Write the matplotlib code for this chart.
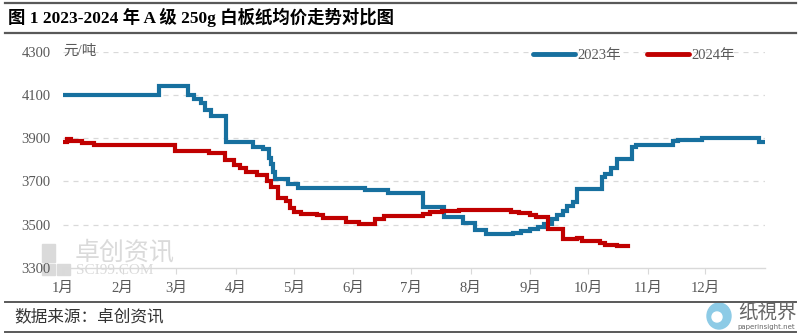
import matplotlib
matplotlib.use('Agg')
import matplotlib.pyplot as plt
from matplotlib.lines import Line2D
from matplotlib.patches import Rectangle, Ellipse
import pandas as pd

plt.rcParams['font.family'] = ['Liberation Serif', 'Noto Sans CJK SC', 'DejaVu Sans']

# 2023 price change points (date, yuan/ton)
dates_2023 = ['01-01', '02-20', '03-07', '03-10', '03-14', '03-16', '03-19', '03-27',
              '04-10', '04-15', '04-18', '04-19', '04-20', '04-21', '04-28', '05-03',
              '06-07', '06-19', '07-07', '07-18', '07-28', '08-03', '08-09', '08-23',
              '08-27', '09-01', '09-05', '09-08', '09-12', '09-15', '09-18', '09-20',
              '09-23', '09-25', '10-08', '10-10', '10-13', '10-16', '10-24', '10-26',
              '11-14', '11-17', '11-29', '12-29', '12-31']
price_2023 = [4100, 4140, 4100, 4080, 4060, 4030, 4000, 3880,
              3860, 3850, 3810, 3780, 3745, 3710, 3690, 3670,
              3660, 3645, 3580, 3535, 3510, 3475, 3455, 3460,
              3470, 3480, 3490, 3505, 3525, 3543, 3565, 3588,
              3605, 3665, 3720, 3735, 3760, 3805, 3860, 3870,
              3885, 3890, 3900, 3880, 3880]

# 2024 price change points
dates_2024 = ['01-01', '01-03', '01-05', '01-11', '01-17', '02-28', '03-18', '03-26',
              '03-31', '04-03', '04-06', '04-12', '04-17', '04-19', '04-23', '04-27',
              '04-29', '05-01', '05-05', '05-13', '05-16', '05-28', '06-04', '06-12',
              '06-17', '07-07', '07-11', '07-17', '07-26', '08-22', '08-26', '09-01',
              '09-04', '09-10', '09-18', '09-25', '09-28', '10-07', '10-10', '10-16',
              '10-22']
price_2024 = [3880, 3895, 3885, 3878, 3868, 3840, 3830, 3800,
              3775, 3760, 3745, 3730, 3700, 3675, 3625, 3610,
              3575, 3560, 3550, 3543, 3532, 3512, 3503, 3528,
              3538, 3550, 3558, 3565, 3570, 3560, 3555, 3546,
              3535, 3482, 3432, 3438, 3423, 3417, 3408, 3401,
              3401]

month_labels = ['1月', '2月', '3月', '4月', '5月', '6月', '7月', '8月', '9月', '10月', '11月', '12月']
y_ticks = [3300, 3500, 3700, 3900, 4100, 4300]


def day_index(md):
    return pd.Timestamp('2023-' + md).dayofyear - 1


x23 = [day_index(d) for d in dates_2023]
x24 = [day_index(d) for d in dates_2024]
month_pos = [day_index('%02d-01' % m) for m in range(1, 13)]

blue = '#17709f'
red = '#c00000'
grey = '#595959'

fig = plt.figure(figsize=(8, 3.35), dpi=100)

# watermark (behind everything)
wm = '#dadada'
for (x0, y0, w, h) in [(42, 262, 13, 18), (42, 275, 13, 11), (57, 275, 13, 11)]:
    fig.add_artist(Rectangle((x0 / 800, 1 - y0 / 335), w / 800, h / 335, color=wm,
                             transform=fig.transFigure, zorder=-5))
fig.text(75 / 800, 1 - 252 / 335, '卓创资讯', fontsize=18, color=wm, ha='left', va='center',
         family=['Noto Sans CJK SC'], zorder=-5)
fig.text(76 / 800, 1 - 271 / 335, 'SCI99.COM', fontsize=11, color=wm, ha='left', va='center',
         zorder=-5)

ax = fig.add_axes([63 / 800, 1 - 268 / 335, (765 - 63) / 800, (268 - 51.5) / 335])
ax.patch.set_alpha(0)

ax.plot(x23, price_2023, drawstyle='steps-post', color=blue, lw=3, solid_joinstyle='miter', zorder=3)
ax.plot(x24, price_2024, drawstyle='steps-post', color=red, lw=3, solid_joinstyle='miter', zorder=3)

ax.set_xlim(0, 365)
ax.set_ylim(3300, 4300)
ax.set_yticks(y_ticks)
ax.set_xticks(month_pos)
ax.set_xticklabels(month_labels)
for v in y_ticks[1:]:
    ax.axhline(v, color='#d9d9d9', lw=0.9, ls=(0, (4, 4)), zorder=1)

for s in ['top', 'right', 'left']:
    ax.spines[s].set_visible(False)
ax.spines['bottom'].set_color('#d9d9d9')
ax.spines['bottom'].set_linewidth(1)
ax.tick_params(axis='y', length=0, pad=9, labelsize=10.5, labelcolor=grey)
ax.tick_params(axis='x', length=4, width=0.8, color='#d9d9d9', direction='out', pad=6,
               labelsize=10.5, labelcolor=grey)

ax.text(0.0, 1.0, '元/吨', transform=ax.transAxes, fontsize=10.5, color=grey,
        ha='left', va='center')

handles = [Line2D([], [], color=blue, lw=3.5, solid_capstyle='round'),
           Line2D([], [], color=red, lw=3.5, solid_capstyle='round')]
fig.legend(handles, ['2023年', '2024年'], loc='center', bbox_to_anchor=(634 / 800, 1 - 55 / 335),
           ncol=2, frameon=False, fontsize=10.5, handlelength=2.9, handletextpad=0.15,
           columnspacing=1.8, labelcolor=grey)

# frame lines and texts
for yy, w in [(2.7, 1.6), (32.7, 1.6), (301.7, 1.4), (331.7, 1.4)]:
    fig.add_artist(Line2D([0.006, 0.995], [1 - yy / 335] * 2, color=grey, lw=w))

fig.text(8 / 800, 1 - 17.5 / 335, '图 1 2023-2024 年 A 级 250g 白板纸均价走势对比图',
         fontsize=12.5, fontweight='bold', color='black', ha='left', va='center')
fig.text(14 / 800, 1 - 317 / 335, '数据来源：卓创资讯', fontsize=12, color='#333333',
         ha='left', va='center')

# logo bottom right
fig.add_artist(Ellipse((719 / 800, 1 - 316 / 335), 24 / 800, 26 / 335, color='#8dcbe6',
                       transform=fig.transFigure))
fig.add_artist(Ellipse((717 / 800, 1 - 317 / 335), 10 / 800, 10 / 335, color='white',
                       transform=fig.transFigure))
fig.text(738 / 800, 1 - 312 / 335, '纸視界', fontsize=14, color='#666666', ha='left', va='center',
         family=['Noto Sans CJK TC'])
fig.text(737 / 800, 1 - 327 / 335, 'paperinsight.net', fontsize=5, color='#666666', ha='left',
         va='center', family=['DejaVu Sans'])

fig.savefig('out.png', dpi=100)
